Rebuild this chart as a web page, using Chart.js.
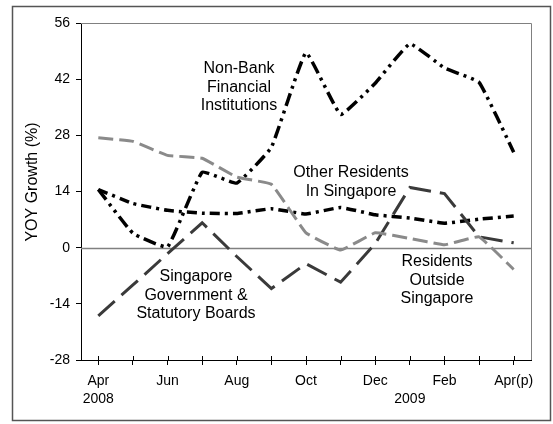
<!DOCTYPE html>
<html>
<head>
  <title>YOY Growth</title>
  <script src="https://cdn.jsdelivr.net/npm/chart.js"></script>
  <style>
    html, body {
      margin: 0;
      padding: 0;
      background-color: #FFFFFF;
    }
    .chart-container {
      position: relative;
      width: 553px;
      height: 424px;
    }
  </style>
</head>
<body>
  <div class="chart-container">
    <canvas id="growthChart"></canvas>
  </div>

  <script>
    const months = ['Apr', 'May', 'Jun', 'Jul', 'Aug', 'Sep', 'Oct', 'Nov', 'Dec', 'Jan', 'Feb', 'Mar', 'Apr(p)'];
    const xTickLabels = [['Apr', '2008'], '', 'Jun', '', 'Aug', '', 'Oct', '', 'Dec', ['', '2009'], 'Feb', '', 'Apr(p)'];
    const yTicks = [-28, -14, 0, 14, 28, 42, 56];

    const nonBank = [14.5, 3.6, 0.2, 18.8, 16.1, 25, 48.6, 33.2, 41, 50.8, 44.8, 41.2, 23.8];
    const otherResidents = [14.5, 11, 9.3, 8.6, 8.5, 9.7, 8.4, 10, 8.2, 7.4, 6.1, 7.1, 7.9];
    const residentsOutside = [27.4, 26.5, 23, 22.3, 17.6, 15.8, 3.7, -0.6, 3.7, 2.3, 0.7, 2.7, -5.4];
    const government = [-17, -9.3, -1.5, 6.2, -2.2, -10.2, -4, -8.6, 1, 15, 13.5, 2.7, 1.2];

    const notes = [
      { lines: ['Non-Bank', 'Financial', 'Institutions'], x: 239, y: 69 },
      { lines: ['Other Residents', 'In Singapore'], x: 351, y: 173 },
      { lines: ['Singapore', 'Government &', 'Statutory Boards'], x: 196, y: 277 },
      { lines: ['Residents', 'Outside', 'Singapore'], x: 437, y: 262 },
    ];

    const toPoints = (values) => values.map((v, i) => ({ x: i, y: v }));

    // frame, zero line, plot border, crossing x ticks, title and labels
    const decorations = {
      id: 'decorations',
      beforeDatasetsDraw(chart) {
        const { ctx, chartArea, scales } = chart;
        const y0 = Math.round(scales.y.getPixelForValue(0)) + 0.5;
        ctx.save();
        ctx.strokeStyle = '#808080';
        ctx.lineWidth = 1.5;
        ctx.beginPath();
        ctx.moveTo(chartArea.left, y0);
        ctx.lineTo(chartArea.right, y0);
        ctx.stroke();

        ctx.lineWidth = 1;
        ctx.beginPath();
        ctx.moveTo(chartArea.left, chartArea.top + 0.5);
        ctx.lineTo(chartArea.right + 0.5, chartArea.top + 0.5);
        ctx.lineTo(chartArea.right + 0.5, chartArea.bottom);
        ctx.stroke();

        ctx.strokeStyle = '#000000';
        ctx.beginPath();
        months.forEach((m, i) => {
          const x = Math.round(scales.x.getPixelForValue(i)) + 0.5;
          ctx.moveTo(x, chartArea.bottom - 4);
          ctx.lineTo(x, chartArea.bottom);
        });
        ctx.stroke();
        ctx.restore();
      },
      afterDraw(chart) {
        const { ctx } = chart;
        ctx.save();
        ctx.strokeStyle = '#555555';
        ctx.lineWidth = 1.5;
        ctx.strokeRect(12.5, 6.5, 538, 414);

        ctx.fillStyle = '#000000';
        ctx.font = '16px "Liberation Sans", Arial, sans-serif';
        ctx.textAlign = 'center';
        ctx.textBaseline = 'middle';
        notes.forEach((note) => {
          note.lines.forEach((line, k) => {
            ctx.fillText(line, note.x, note.y + k * 18.5);
          });
        });

        ctx.translate(33, 182);
        ctx.rotate(-Math.PI / 2);
        ctx.fillText('YOY Growth (%)', 0, 0);
        ctx.restore();
      },
    };

    const ctx = document.getElementById('growthChart').getContext('2d');
    window.chart = new Chart(ctx, {
      type: 'line',
      data: {
        datasets: [
          {
            label: 'Residents Outside Singapore',
            data: toPoints(residentsOutside),
            borderColor: '#8a8a8a',
            borderWidth: 3,
            borderDash: [15, 6],
            tension: 0.08,
          },
          {
            label: 'Singapore Government & Statutory Boards',
            data: toPoints(government),
            borderColor: '#3a3a3a',
            borderWidth: 3,
            borderDash: [22, 9],
            tension: 0,
          },
          {
            label: 'Other Residents In Singapore',
            data: toPoints(otherResidents),
            borderColor: '#000000',
            borderWidth: 3.5,
            borderDash: [10, 5, 3, 5],
            tension: 0.1,
          },
          {
            label: 'Non-Bank Financial Institutions',
            data: toPoints(nonBank),
            borderColor: '#000000',
            borderWidth: 3.5,
            borderDash: [13, 5, 3, 5, 3, 5],
            tension: 0.1,
          },
        ],
      },
      options: {
        responsive: true,
        maintainAspectRatio: false,
        animation: false,
        layout: {
          padding: { left: 0, top: 23, right: 22, bottom: 0 },
        },
        elements: {
          point: { radius: 0 },
          line: { fill: false, borderCapStyle: 'butt', borderJoinStyle: 'miter' },
        },
        scales: {
          x: {
            type: 'linear',
            min: -0.5,
            max: 12.5,
            afterFit: (scale) => { scale.height = 64; },
            afterBuildTicks: (scale) => {
              scale.ticks = months.map((m, i) => ({ value: i }));
            },
            ticks: {
              autoSkip: false,
              maxRotation: 0,
              padding: 7,
              color: '#000000',
              font: { family: '"Liberation Sans", Arial, sans-serif', size: 14, lineHeight: 1.28 },
              callback: (value) => xTickLabels[value],
            },
            grid: {
              drawOnChartArea: false,
              tickLength: 5,
              color: '#000000',
            },
            border: { color: '#000000', width: 1 },
          },
          y: {
            min: -28,
            max: 56,
            afterFit: (scale) => { scale.width = 81; },
            afterBuildTicks: (scale) => {
              scale.ticks = yTicks.map((v) => ({ value: v }));
            },
            ticks: {
              padding: 6,
              color: '#000000',
              font: { family: '"Liberation Sans", Arial, sans-serif', size: 14 },
            },
            grid: {
              drawOnChartArea: false,
              tickLength: 5,
              color: '#000000',
            },
            border: { color: '#000000', width: 1 },
          },
        },
        plugins: {
          legend: { display: false },
          tooltip: { enabled: false },
        },
      },
      plugins: [decorations],
    });
  </script>
</body>
</html>
